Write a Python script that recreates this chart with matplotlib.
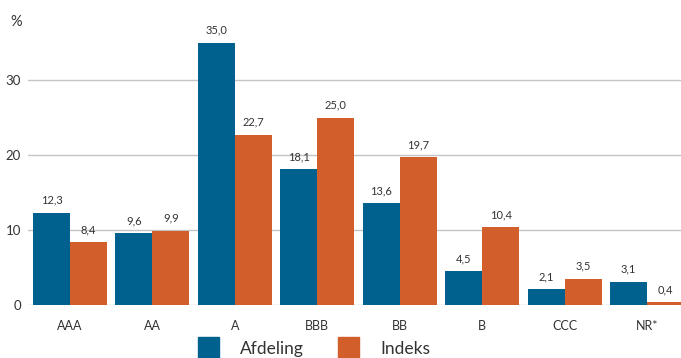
import numpy as np
import matplotlib.pyplot as plt
from matplotlib.patches import Patch

categories = ["AAA", "AA", "A", "BBB", "BB", "B", "CCC", "NR*"]
afdeling = [12.3, 9.6, 35.0, 18.1, 13.6, 4.5, 2.1, 3.1]
indeks = [8.4, 9.9, 22.7, 25.0, 19.7, 10.4, 3.5, 0.4]
series_names = ["Afdeling", "Indeks"]
yticks = [0, 10, 20, 30]

blue = "#00618f"
orange = "#d25e2b"
text_color = "#333333"
grid_color = "#c4c4c4"

plt.rcParams['font.family'] = ['Lato', 'DejaVu Sans']

fig = plt.figure(figsize=(6.81, 3.58), dpi=100)
ax = fig.add_axes([28 / 681, 1 - 305 / 358, 1 - 28 / 681, 300 / 358])

x = np.arange(len(categories))
w = 0.449
b1 = ax.bar(x - w / 2, afdeling, w, color=blue, zorder=3)
b2 = ax.bar(x + w / 2, indeks, w, color=orange, zorder=3)

for bars, vals in ((b1, afdeling), (b2, indeks)):
    for bar, v in zip(bars, vals):
        ax.annotate(f"{v:.1f}".replace(".", ","),
                    (bar.get_x() + bar.get_width() / 2, bar.get_height()),
                    xytext=(0, 5), textcoords="offset points",
                    ha="center", va="bottom", fontsize=8, color=text_color)

ax.set_xlim(-0.5095, 7.412)
ax.set_ylim(0, 40)
ax.set_yticks(yticks)
ax.set_xticks(x)
ax.set_xticklabels(categories)
ax.tick_params(axis="x", length=0, pad=11, labelsize=9, colors=text_color)
ax.tick_params(axis="y", length=0, pad=5, labelsize=9.5, colors=text_color)
ax.grid(axis="y", color=grid_color, linewidth=1, zorder=0)
for s in ax.spines.values():
    s.set_visible(False)

fig.text(10 / 681, 1 - 22 / 358, "%", fontsize=10.5, color=text_color,
         ha="left", va="center")

handles = [Patch(color=blue), Patch(color=orange)]
fig.legend(handles, series_names, loc="center",
           bbox_to_anchor=(314 / 681, 1 - 348 / 358), ncol=2, frameon=False,
           fontsize=12.5, handlelength=1.2, handleheight=1.5,
           handletextpad=1.2, columnspacing=2.0, labelcolor=text_color,
           borderpad=0)

fig.savefig("out.png", dpi=100)
